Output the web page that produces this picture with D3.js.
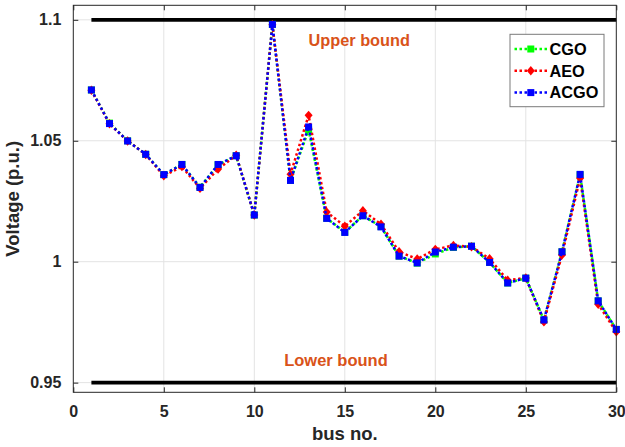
<!DOCTYPE html>
<html>
<head>
<meta charset="utf-8">
<script src="https://cdn.jsdelivr.net/npm/d3@7"></script>
<style>
  html, body { margin: 0; padding: 0; background: #fff; }
  svg { display: block; font-family: "Liberation Sans", Arial, Helvetica, sans-serif; }
</style>
</head>
<body>
<svg id="chart" width="625" height="447"></svg>
<script>
// Bus numbers of the 30-bus system
const buses = d3.range(1, 31);

// Bus voltage magnitudes (p.u.) obtained by each optimizer
const cgo = [1.0710, 1.0573, 1.0500, 1.0444, 1.0360, 1.0402, 1.0308, 1.0400, 1.0438, 1.0193,
             1.0981, 1.0336, 1.0545, 1.0180, 1.0122, 1.0190, 1.0145, 1.0023, 0.9994, 1.0032,
             1.0059, 1.0064, 0.9997, 0.9912, 0.9932, 0.9759, 1.0041, 1.0359, 0.9838, 0.9720];
const aeo = [1.0709, 1.0570, 1.0499, 1.0443, 1.0355, 1.0393, 1.0303, 1.0383, 1.0440, 1.0193,
             1.0980, 1.0362, 1.0605, 1.0205, 1.0147, 1.0211, 1.0155, 1.0041, 1.0011, 1.0051,
             1.0067, 1.0062, 1.0012, 0.9923, 0.9933, 0.9751, 1.0028, 1.0345, 0.9824, 0.9710];
const acgo = [1.0710, 1.0571, 1.0499, 1.0444, 1.0360, 1.0402, 1.0307, 1.0402, 1.0438, 1.0193,
              1.0981, 1.0336, 1.0557, 1.0179, 1.0121, 1.0190, 1.0144, 1.0023, 0.9995, 1.0040,
              1.0060, 1.0064, 0.9997, 0.9912, 0.9932, 0.9759, 1.0041, 1.0361, 0.9838, 0.9720];

// Voltage limits
const upperBound = 1.1;
const lowerBound = 0.95;

const xTicks = [0, 5, 10, 15, 20, 25, 30];
const yTicks = [0.95, 1, 1.05, 1.1];
const yTickLabels = ["0.95", "1", "1.05", "1.1"];

const seriesNames = ["CGO", "AEO", "ACGO"];
const seriesColors = ["#00ff00", "#ff0000", "#0000ff"];
const seriesMarkers = ["square", "diamond", "square"];

const svg = d3.select("#chart");
const plotL = 73.3, plotR = 616.3, plotT = 5.3, plotB = 392.3;
const axisColor = "#262626";
const orange = "#D95319";

const x = d3.scaleLinear().domain([0, 30]).range([plotL, plotR]);
const y = d3.scaleLinear().domain([0.946, 1.106]).range([plotB, plotT]);

// Grid
const grid = svg.append("g");
grid.selectAll("line.gx").data(xTicks.slice(1, -1)).join("line")
  .attr("x1", d => x(d)).attr("x2", d => x(d))
  .attr("y1", plotT).attr("y2", plotB)
  .attr("stroke", "#e3e3e3").attr("stroke-width", 1);
grid.selectAll("line.gy").data(yTicks).join("line")
  .attr("x1", plotL).attr("x2", plotR)
  .attr("y1", d => y(d)).attr("y2", d => y(d))
  .attr("stroke", "#e3e3e3").attr("stroke-width", 1);

// Axes (ticks pointing inward, box on all sides)
const tickLen = 5;
const xAxisB = d3.axisBottom(x).tickValues(xTicks).tickSizeInner(-tickLen).tickSizeOuter(0).tickPadding(13);
const xAxisT = d3.axisTop(x).tickValues(xTicks).tickSizeInner(-tickLen).tickSizeOuter(0).tickFormat("");
const yAxisL = d3.axisLeft(y).tickValues(yTicks).tickSizeInner(-tickLen).tickSizeOuter(0).tickPadding(12)
  .tickFormat((d, i) => yTickLabels[i]);
const yAxisR = d3.axisRight(y).tickValues(yTicks).tickSizeInner(-tickLen).tickSizeOuter(0).tickFormat("");

function styleAxis(g) {
  g.select(".domain").remove();
  g.selectAll(".tick line").attr("stroke", axisColor).attr("stroke-width", 1);
  g.selectAll(".tick text").attr("fill", axisColor)
    .style("font-size", "16px").style("font-weight", "bold");
}
svg.append("g").attr("transform", `translate(0,${plotB})`).call(xAxisB).call(styleAxis);
svg.append("g").attr("transform", `translate(0,${plotT})`).call(xAxisT).call(styleAxis);
svg.append("g").attr("transform", `translate(${plotL},0)`).call(yAxisL).call(styleAxis);
svg.append("g").attr("transform", `translate(${plotR},0)`).call(yAxisR).call(styleAxis);

// Voltage limit lines
[upperBound, lowerBound].forEach(v => {
  svg.append("line")
    .attr("x1", x(1)).attr("x2", x(30))
    .attr("y1", y(v)).attr("y2", y(v))
    .attr("stroke", "#000").attr("stroke-width", 3.8);
});

svg.append("text").attr("x", x(13)).attr("y", 45.5)
  .attr("fill", orange).style("font-size", "16.3px").style("font-weight", "bold")
  .text("Upper bound");
svg.append("text").attr("x", x(11.65)).attr("y", 365.5)
  .attr("fill", orange).style("font-size", "16.5px").style("font-weight", "bold")
  .text("Lower bound");

// Marker shapes
function marker(g, type, color, cx, cy) {
  if (type === "square") {
    g.append("rect").attr("x", cx - 3.5).attr("y", cy - 3.5)
      .attr("width", 7).attr("height", 7).attr("fill", color);
  } else {
    g.append("path")
      .attr("d", `M${cx},${cy - 4.7}L${cx + 4},${cy}L${cx},${cy + 4.7}L${cx - 4},${cy}Z`)
      .attr("fill", color);
  }
}

// Series
const allSeries = [cgo, aeo, acgo];
const line = d3.line().x(d => x(d[0])).y(d => y(d[1]));
allSeries.forEach((vals, si) => {
  const pts = buses.map((b, i) => [b, vals[i]]);
  const g = svg.append("g");
  g.append("path").datum(pts).attr("d", line)
    .attr("fill", "none").attr("stroke", seriesColors[si])
    .attr("stroke-width", 2.5).attr("stroke-dasharray", "2.5,2.5");
  pts.forEach(p => marker(g, seriesMarkers[si], seriesColors[si], x(p[0]), y(p[1])));
});

// Axis box
svg.append("rect").attr("x", plotL).attr("y", plotT)
  .attr("width", plotR - plotL).attr("height", plotB - plotT)
  .attr("fill", "none").attr("stroke", axisColor).attr("stroke-width", 1);

// Axis titles
svg.append("text").attr("x", (plotL + plotR) / 2).attr("y", 440)
  .attr("text-anchor", "middle").attr("fill", axisColor)
  .style("font-size", "18.5px").style("font-weight", "bold").text("bus no.");
svg.append("text").attr("transform", `translate(19,${(plotT + plotB) / 2}) rotate(-90)`)
  .attr("text-anchor", "middle").attr("fill", axisColor)
  .style("font-size", "18.5px").style("font-weight", "bold").text("Voltage (p.u.)");

// Legend
const lg = svg.append("g");
lg.append("rect").attr("x", 510).attr("y", 34.3).attr("width", 94).attr("height", 72.4)
  .attr("fill", "#fff").attr("stroke", "#7a7a7a").attr("stroke-width", 1);
seriesNames.forEach((name, i) => {
  const ly = 49 + i * 21.8;
  lg.append("line").attr("x1", 514.5).attr("x2", 547).attr("y1", ly).attr("y2", ly)
    .attr("stroke", seriesColors[i]).attr("stroke-width", 2.5).attr("stroke-dasharray", "2.5,2.5");
  marker(lg, seriesMarkers[i], seriesColors[i], 530.8, ly);
  lg.append("text").attr("x", 549.5).attr("y", ly + 5.8).attr("fill", "#000")
    .style("font-size", "16.3px").style("font-weight", "bold").text(name);
});
</script>
</body>
</html>
